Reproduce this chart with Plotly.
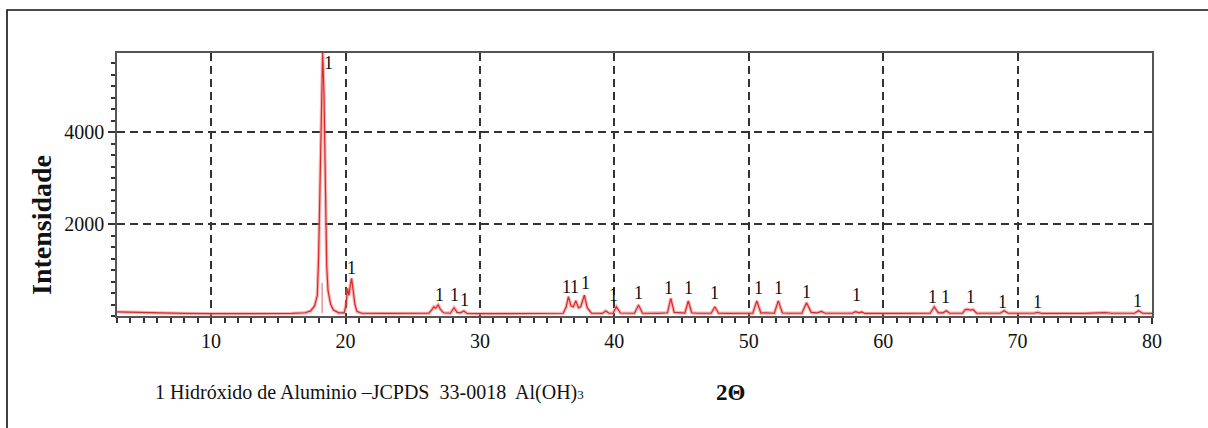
import plotly.graph_objects as go

# ---- data ----
two_theta = [
    3.0, 4.0, 5.0, 6.0, 8.0, 10.0, 12.0, 14.0, 16.0, 17.0, 17.4, 17.7, 17.9, 18.0,
    18.1, 18.2, 18.3, 18.4, 18.5, 18.6, 18.7, 18.9, 19.1, 19.5, 19.9, 20.05, 20.15,
    20.25, 20.35, 20.45, 20.55, 20.7, 20.85, 21.2, 23.0, 25.0, 26.2, 26.4, 26.57,
    26.7, 26.89, 27.05, 27.3, 27.8, 28.08, 28.3, 28.55, 28.8, 29.05, 30.0, 33.0,
    35.5, 36.2, 36.42, 36.58, 36.78, 36.95, 37.13, 37.33, 37.5, 37.77, 37.98, 38.3,
    39.1, 39.37, 39.6, 39.9, 40.15, 40.45, 41.5, 41.8, 42.1, 43.3, 43.95, 44.2,
    44.45, 45.25, 45.5, 45.75, 46.2, 47.2, 47.48, 47.75, 48.5, 50.3, 50.6, 50.9,
    51.3, 51.9, 52.2, 52.5, 53.0, 53.95, 54.3, 54.65, 55.1, 55.4, 55.7, 57.0,
    57.7, 57.95, 58.2, 58.4, 58.65, 61.0, 63.5, 63.8, 64.1, 64.45, 64.7, 64.95,
    65.9, 66.1, 66.3, 66.5, 66.7, 66.95, 68.7, 69.0, 69.3, 71.2, 71.5, 71.8, 75.0,
    76.5, 77.0, 78.7, 79.0, 79.3, 80.0,
]
intensity = [
    90, 80, 75, 65, 55, 50, 50, 52, 55, 70, 110, 220, 450, 1300,
    2600, 4300, 5750, 4800, 2600, 1100, 550, 250, 130, 70, 70, 250, 600,
    450, 650, 820, 600, 250, 100, 60, 55, 55, 60, 130, 200,
    170, 240, 150, 70, 60, 180, 80, 70, 110, 55, 50, 50,
    55, 60, 200, 420, 220, 200, 330, 180, 200, 455, 180, 60,
    55, 110, 60, 60, 200, 65, 60, 240, 60, 55, 70, 385,
    80, 65, 330, 70, 60, 60, 200, 60, 55, 60, 330, 65,
    70, 60, 330, 65, 60, 60, 290, 80, 70, 100, 60, 55,
    60, 95, 70, 90, 55, 55, 60, 200, 70, 70, 115, 60,
    60, 140, 145, 130, 140, 60, 60, 115, 60, 60, 80, 55, 55,
    75, 60, 60, 115, 60, 55,
]

# inner line seen inside the main reflection
inner_x = [18.26, 18.26]
inner_y = [60, 720]

# peak identification labels ("1" = Gibbsite, Al(OH)3)
label_x = [18.73, 20.45, 27.0, 28.13, 28.83, 36.46, 37.06, 37.88, 39.93, 41.8,
           44.02, 45.5, 47.45, 50.72, 52.2, 54.3, 58.0, 63.7, 64.6, 66.5,
           68.85, 71.45, 78.9]
label_y = [5500, 1040, 457, 457, 350, 637, 637, 717, 457, 500,
           610, 610, 500, 610, 610, 520, 457, 413, 413, 413,
           304, 304, 326]
label_text = "1"

x_tick_vals = [10, 20, 30, 40, 50, 60, 70, 80]
y_tick_vals = [2000, 4000]

legend_note = "1 Hidróxido de Aluminio –JCPDS  33-0018  Al(OH)<span style='font-size:13px'>3</span>"
x_title = "2Θ"
y_title = "Intensidade"

SERIF = "Liberation Serif, Times New Roman, serif"

fig = go.Figure()

# soft halo of the scan line
fig.add_trace(go.Scatter(
    x=two_theta, y=intensity, mode="lines",
    line=dict(color="rgba(240,120,120,0.55)", width=3.4),
    hoverinfo="skip", showlegend=False,
))
fig.add_trace(go.Scatter(
    x=inner_x, y=inner_y, mode="lines",
    line=dict(color="rgba(225,90,90,0.8)", width=1.2),
    hoverinfo="skip", showlegend=False,
))
# main red scan line
fig.add_trace(go.Scatter(
    x=two_theta, y=intensity, mode="lines",
    line=dict(color="#dc2828", width=1.2),
    showlegend=False,
))

annotations = []
for lx, ly in zip(label_x, label_y):
    annotations.append(dict(
        x=lx, y=ly, xref="x", yref="y", text=label_text, showarrow=False,
        font=dict(family=SERIF, size=18, color="#111"),
        xanchor="center", yanchor="middle",
    ))

# plot area in pixels: left 117, right 1152, top 53, bottom 316
PL, PR, PT, PB = 117, 1152, 53, 316
def px_to_paper_x(px):
    return (px - PL) / (PR - PL)
def px_to_paper_y(py):
    return (PB - py) / (PB - PT)

annotations.append(dict(
    x=px_to_paper_x(153), y=px_to_paper_y(392), xref="paper", yref="paper",
    text=legend_note, showarrow=False, xanchor="left", yanchor="middle",
    font=dict(family=SERIF, size=20, color="#111"),
))
annotations.append(dict(
    x=px_to_paper_x(730), y=px_to_paper_y(392), xref="paper", yref="paper",
    text="<b>" + x_title + "</b>", showarrow=False, xanchor="center", yanchor="middle",
    font=dict(family=SERIF, size=23, color="#111"),
))
annotations.append(dict(
    x=px_to_paper_x(41), y=px_to_paper_y(225), xref="paper", yref="paper",
    text="<b>" + y_title + "</b>", showarrow=False, textangle=-90,
    xanchor="center", yanchor="middle",
    font=dict(family=SERIF, size=28, color="#111"),
))

# outer page frame (left and top edges visible)
fx = px_to_paper_x(7)
fy_top = px_to_paper_y(10)
fy_bot = px_to_paper_y(440)
fx_right = px_to_paper_x(1215)
shapes = [dict(
    type="path", xref="paper", yref="paper",
    path=f"M {fx},{fy_bot} L {fx},{fy_top} L {fx_right},{fy_top}",
    line=dict(color="#111", width=1.6), layer="above",
)]

fig.update_layout(
    width=1208, height=428,
    margin=dict(l=PL, r=1208 - PR, t=PT, b=428 - PB),
    paper_bgcolor="white", plot_bgcolor="white",
    annotations=annotations, shapes=shapes,
    font=dict(family=SERIF, size=19, color="#111"),
)
fig.update_xaxes(
    range=[3, 80], tickvals=x_tick_vals, ticks="outside", ticklen=6, tickwidth=1.5,
    tickcolor="#333", showline=True, linecolor="#555", linewidth=1.5, mirror=True,
    showgrid=True, gridcolor="#333", gridwidth=1.5, griddash="8px,5px",
    zeroline=False, tickfont=dict(family=SERIF, size=20, color="#111"),
    ticklabelstandoff=0,
    minor=dict(dtick=1, ticks="outside", ticklen=5, tickcolor="#333", showgrid=False),
)
fig.update_yaxes(
    range=[0, 5720], tickvals=y_tick_vals, ticks="outside", ticklen=7, tickwidth=1.5,
    tickcolor="#333", showline=True, linecolor="#555", linewidth=1.5, mirror=True,
    showgrid=True, gridcolor="#333", gridwidth=1.5, griddash="8px,5px",
    zeroline=False, tickfont=dict(family=SERIF, size=20, color="#111"),
    minor=dict(dtick=250, ticks="outside", ticklen=4, tickcolor="#333", showgrid=False),
)

fig.write_html("out.html")
